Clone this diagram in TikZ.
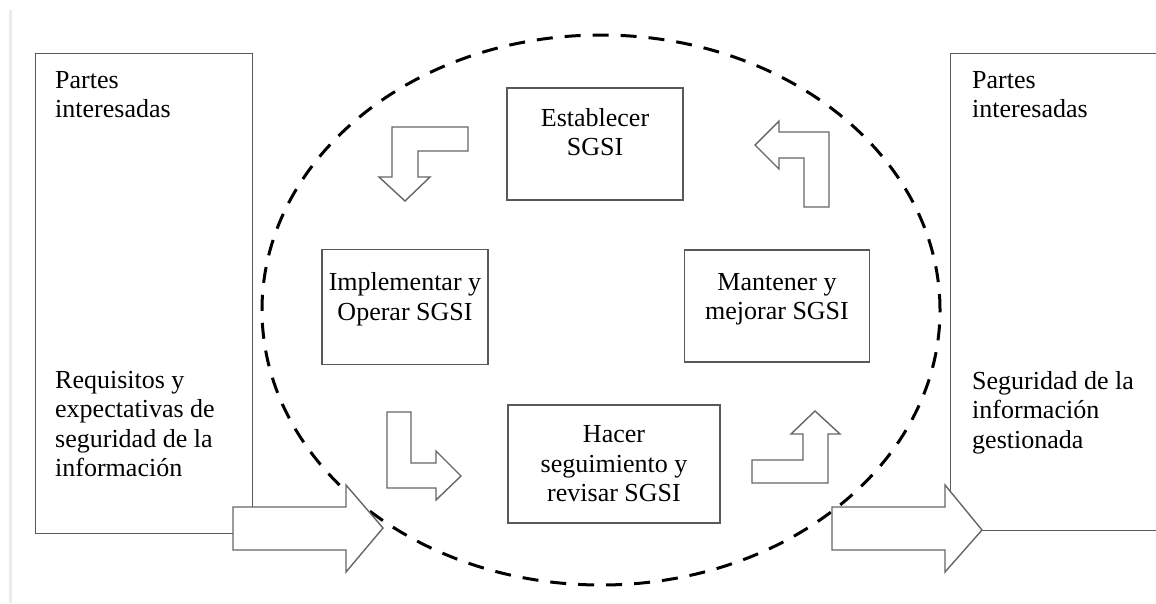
\documentclass[tikz,border=0pt]{standalone}
\usepackage{fontspec}
\setmainfont{Liberation Serif}
\usetikzlibrary{positioning}

\begin{document}
\begin{tikzpicture}
 [
  x=1pt, y=-1pt,
  box/.style      = {draw=black!65, line width=1.4pt, fill=white, inner sep=0pt},
  txt/.style      = {font=\fontsize{26}{29.5}\selectfont, align=center, text=black},
  side/.style     = {font=\fontsize{26}{29.5}\selectfont, align=left, text=black,
                     anchor=north west, inner sep=0pt},
  blockarrow/.style = {draw=black!60, line width=1.4pt, fill=white, line join=miter},
  cycle/.style    = {draw=black, line width=3pt, dash pattern=on 16pt off 12pt},
 ]

 % frame of the page
 \useasboundingbox (0,0) rectangle (1156,603);
 \draw[black!8, line width=3pt] (10,10) -- (10,603);

 % the cycle
 \draw[cycle] (601,310) ellipse [x radius=339pt, y radius=275pt];

 % stakeholders on both sides
 \node (izq) at (35,53) [box, anchor=north west, minimum width=217, minimum height=480] {};
 \node (der) at (950,53) [box, anchor=north west, minimum width=240, minimum height=477] {};

 \node (izqarriba) at (55,71) [side] {Partes\\interesadas};
 \node (izqabajo) at (55,371) [side] {Requisitos y\\expectativas de\\seguridad de la\\información};
 \node (derarriba) at (972,71) [side] {Partes\\interesadas};
 \node (derabajo) at (972,371) [side] {Seguridad de la\\información\\gestionada};

 % the four steps
 \node (establecer) at (595,144) [box, minimum width=176, minimum height=112,
   label={[txt, yshift=12]center:Establecer\\SGSI}] {};
 \node (implementar) at (405,307) [box, minimum width=166, minimum height=115,
   label={[txt, yshift=8]center:Implementar y\\Operar SGSI}] {};
 \node (mantener) at (777,306) [box, minimum width=185, minimum height=112,
   label={[txt, yshift=7]center:Mantener y\\mejorar SGSI}] {};
 \node (revisar) at (614,464) [box, txt, minimum width=212, minimum height=118] {Hacer\\seguimiento y\\revisar SGSI};

 % turning arrows between the steps
 \draw[blockarrow] (392,127) -- (468,127) -- (468,151) -- (418,151) -- (418,177)
   -- (430,177) -- (405,201) -- (379,177) -- (392,177) -- cycle;
 \draw[blockarrow] (387,412) -- (411,412) -- (411,463) -- (436,463) -- (436,451)
   -- (461,476) -- (436,500) -- (436,488) -- (387,488) -- cycle;
 \draw[blockarrow] (752,483) -- (752,460) -- (803,460) -- (803,434) -- (791,434)
   -- (815,411) -- (840,434) -- (828,434) -- (828,483) -- cycle;
 \draw[blockarrow] (755,145) -- (779,121) -- (779,132) -- (829,132) -- (829,207)
   -- (804,207) -- (804,158) -- (779,158) -- (779,169) -- cycle;

 % input and output
 \draw[blockarrow] (233,507) -- (346,507) -- (346,485) -- (383,528) -- (346,572)
   -- (346,550) -- (233,550) -- cycle;
 \draw[blockarrow] (832,507) -- (945,507) -- (945,485) -- (982,530) -- (945,572)
   -- (945,550) -- (832,550) -- cycle;
\end{tikzpicture}
\end{document}
